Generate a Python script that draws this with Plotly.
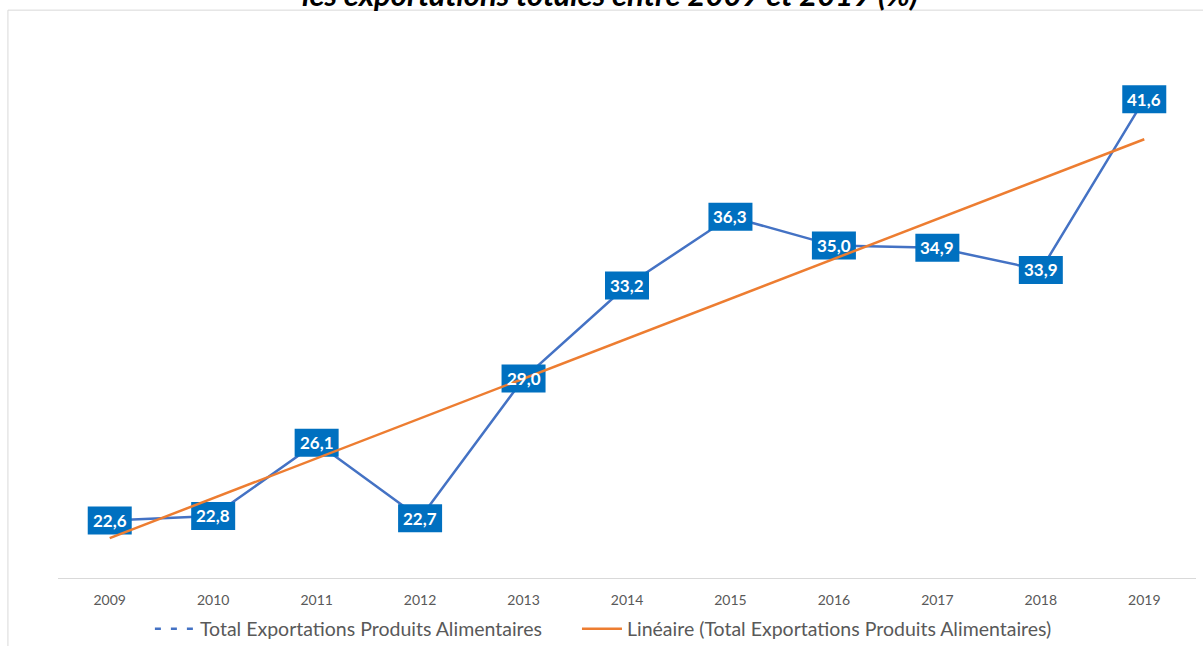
import plotly.graph_objects as go

# Part des produits alimentaires dans les exportations totales (%)
years = [2009, 2010, 2011, 2012, 2013, 2014, 2015, 2016, 2017, 2018, 2019]
total_alim = [22.6, 22.8, 26.1, 22.7, 29.0, 33.2, 36.3, 35.0, 34.9, 33.9, 41.6]
labels = ["22,6", "22,8", "26,1", "22,7", "29,0", "33,2", "36,3", "35,0", "34,9", "33,9", "41,6"]

# droite de tendance (extrémités)
trend_years = [2009, 2019]
trend_vals = [21.8, 39.8]

title_txt = "les exportations totales entre 2009 et 2019 (%)"
name_main = "Total Exportations Produits Alimentaires"
name_trend = "Linéaire (Total Exportations Produits Alimentaires)"

BLUE = "#4472C4"
LABEL_BG = "#0070C0"
ORANGE = "#ED7D31"
GREY = "#595959"
FONT = "Lato"

fig = go.Figure()

# legend entry for the data series (the line itself is drawn as a shape below the labels)
fig.add_trace(go.Scatter(x=[None], y=[None], mode="lines", name=name_main, legend="legend",
                         line=dict(color=BLUE, width=2.5, dash="6px,10px")))

fig.add_trace(go.Scatter(x=trend_years, y=trend_vals, mode="lines", name=name_trend, legend="legend2",
                         line=dict(color=ORANGE, width=2.5)))

shapes = []
# data line under the label boxes
path = "M " + " L ".join(f"{x},{y}" for x, y in zip(years, total_alim))
shapes.append(dict(type="path", path=path, xref="x", yref="y", layer="below",
                   line=dict(color=BLUE, width=2.5)))

# label boxes (above the data line, below the trend line)
for x, y in zip(years, total_alim):
    shapes.append(dict(type="rect", xref="x", yref="y", layer="between",
                       xsizemode="pixel", ysizemode="pixel", xanchor=x, yanchor=y,
                       x0=-22, x1=22, y0=-14, y1=14,
                       fillcolor=LABEL_BG, line=dict(width=0)))

# chart border (left and top edges only are inside the window)
shapes.append(dict(type="line", xref="paper", yref="paper", x0=-0.044, x1=-0.044, y0=-0.2, y1=1.025,
                   line=dict(color="#D9D9D9", width=1), layer="below"))
shapes.append(dict(type="line", xref="paper", yref="paper", x0=-0.044, x1=1.1, y0=1.025, y1=1.025,
                   line=dict(color="#D9D9D9", width=1), layer="below"))

annotations = []
for x, y, t in zip(years, total_alim, labels):
    annotations.append(dict(x=x, y=y, xref="x", yref="y", text=f"<b>{t}</b>", showarrow=False,
                            font=dict(family=FONT, size=17, color="white")))

annotations.append(dict(x=0.485, y=1.016, xref="paper", yref="paper", xanchor="center", yanchor="bottom",
                        text=f"<b><i>{title_txt}</i></b>", showarrow=False,
                        font=dict(family=FONT, size=31, color="black")))

legend_style = dict(orientation="h", xref="container", yref="container",
                    xanchor="left", y=1 - 629 / 646, yanchor="middle", itemwidth=40,
                    font=dict(family=FONT, size=19.5, color=GREY), bgcolor="rgba(0,0,0,0)")

fig.update_layout(
    width=1203, height=646,
    margin=dict(l=58, r=7, t=24, b=68, autoexpand=False),
    paper_bgcolor="white", plot_bgcolor="white",
    font=dict(family=FONT, color=GREY),
    shapes=shapes,
    annotations=annotations,
    showlegend=True,
    legend=dict(legend_style, x=0.1246),
    legend2=dict(legend_style, x=0.4796),
    xaxis=dict(range=[2008.5, 2019.5], tickvals=years, ticktext=[str(y) for y in years],
               showgrid=False, zeroline=False, showline=True, linecolor="#D9D9D9", linewidth=1,
               ticks="outside", ticklen=9, tickcolor="rgba(0,0,0,0)", automargin=False,
               tickfont=dict(family=FONT, size=14, color=GREY), fixedrange=True),
    yaxis=dict(range=[20, 45], visible=False, showgrid=False, zeroline=False, fixedrange=True),
)

# page body has a default 8px margin: remove it so the figure fills the window
fig.write_html("out.html", config={"displayModeBar": False},
               post_script="document.body.style.margin='0px';")
